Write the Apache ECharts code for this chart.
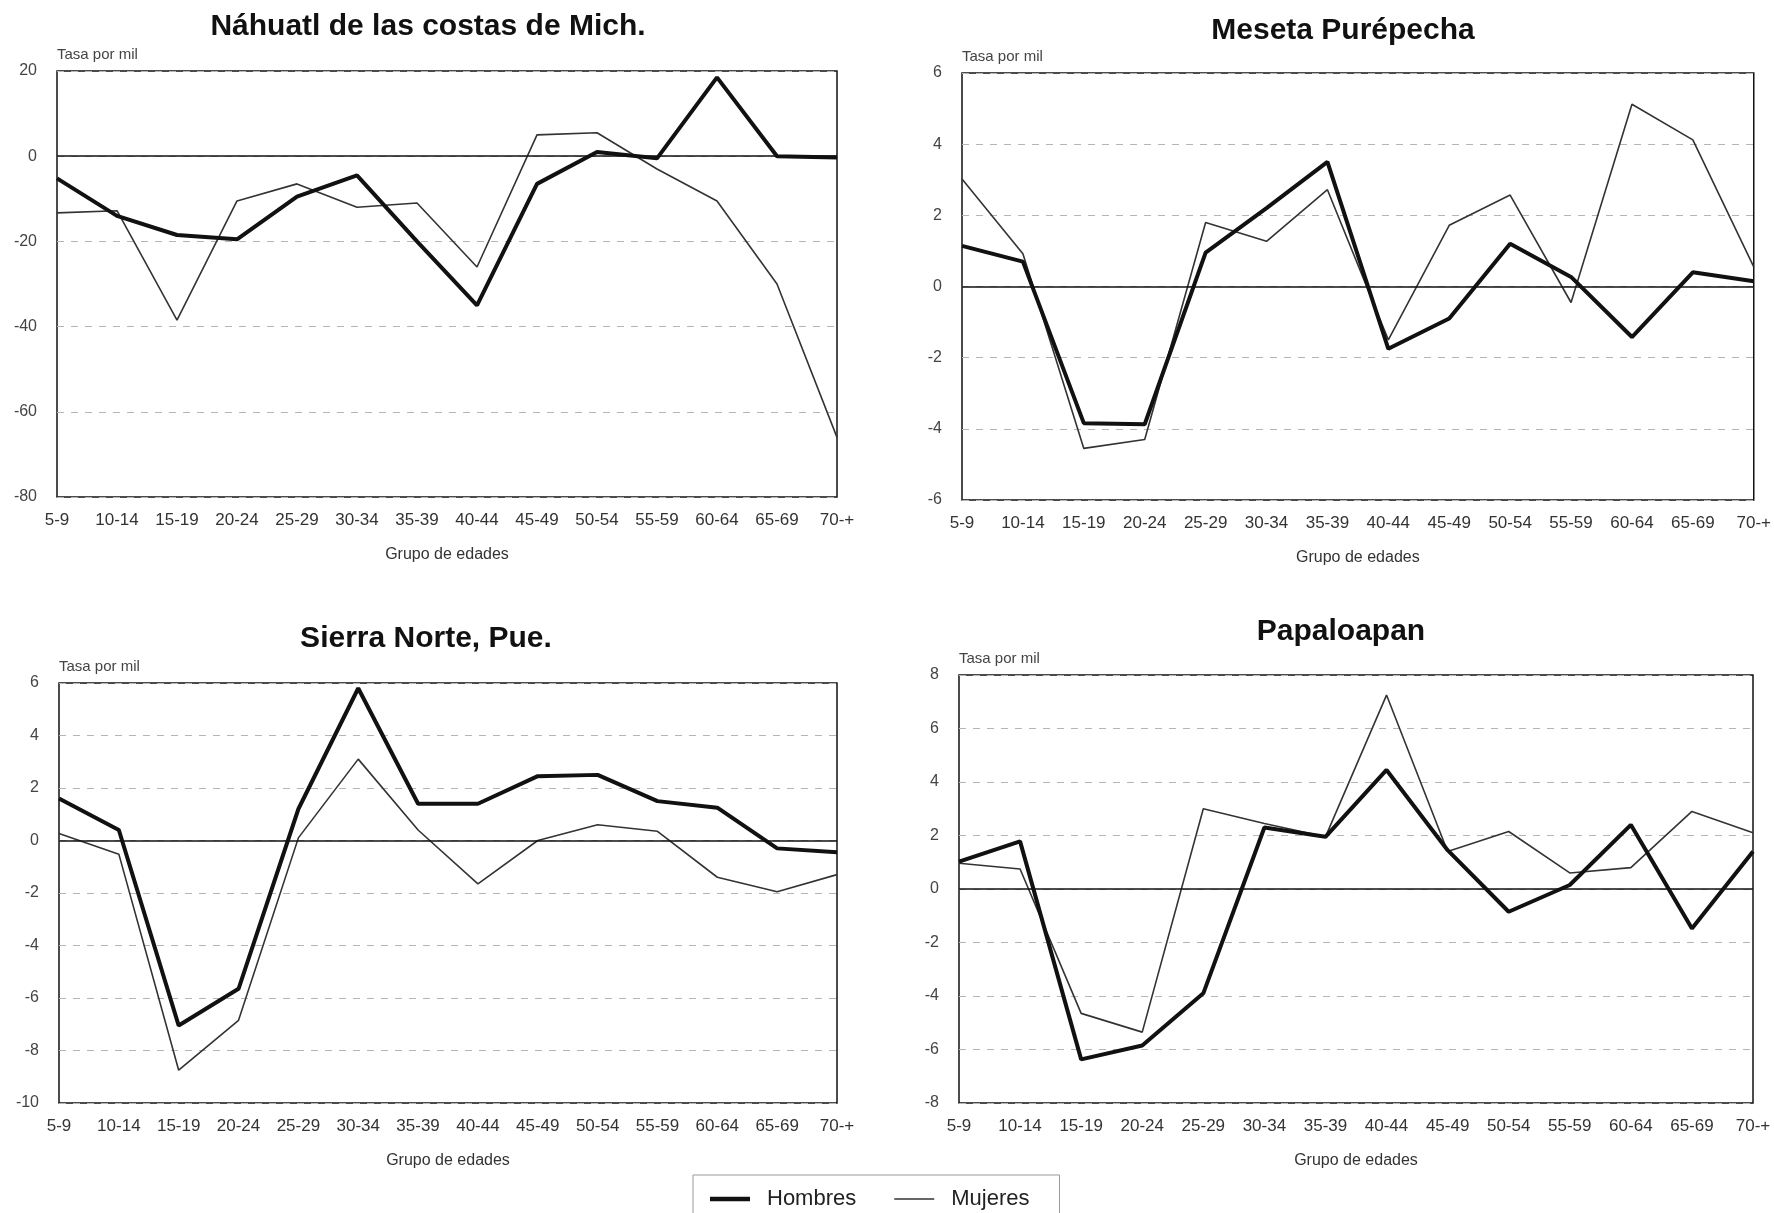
<!DOCTYPE html>
<html>
<head>
<meta charset="utf-8">
<script src="https://cdn.jsdelivr.net/npm/echarts@6/dist/echarts.min.js"></script>
<style>
  html, body { margin: 0; padding: 0; background: #fff; }
  #echart { width: 1774px; height: 1213px; }
</style>
</head>
<body>
<div id="echart"></div>
<script>
var dom = document.getElementById("echart");
var myChart = echarts.init(dom);

var ageGroups = ['5-9', '10-14', '15-19', '20-24', '25-29', '30-34', '35-39', '40-44', '45-49', '50-54', '55-59', '60-64', '65-69', '70-+'];

var panelTitles = ['Náhuatl de las costas de Mich.', 'Meseta Purépecha', 'Sierra Norte, Pue.', 'Papaloapan'];

// Náhuatl de las costas de Mich.
var hombresNahuatl = [-5.2, -14, -18.5, -19.5, -9.5, -4.5, -20, -35, -6.5, 1, -0.5, 18.5, 0, -0.3];
var mujeresNahuatl = [-13.3, -12.8, -38.5, -10.5, -6.5, -12, -11, -26, 5, 5.5, -3, -10.5, -30, -66];
// Meseta Purépecha
var hombresMeseta = [1.14, 0.7, -3.84, -3.87, 0.95, 2.2, 3.5, -1.75, -0.9, 1.2, 0.27, -1.42, 0.4, 0.15];
var mujeresMeseta = [3.02, 0.92, -4.55, -4.3, 1.8, 1.27, 2.72, -1.5, 1.72, 2.57, -0.45, 5.12, 4.12, 0.55];
// Sierra Norte, Pue.
var hombresSierra = [1.6, 0.4, -7.05, -5.65, 1.2, 5.8, 1.4, 1.4, 2.45, 2.5, 1.5, 1.25, -0.3, -0.45];
var mujeresSierra = [0.27, -0.52, -8.75, -6.85, 0.1, 3.1, 0.4, -1.65, 0, 0.6, 0.35, -1.4, -1.95, -1.3];
// Papaloapan
var hombresPapaloapan = [1.02, 1.78, -6.37, -5.85, -3.9, 2.3, 1.95, 4.45, 1.45, -0.85, 0.15, 2.4, -1.48, 1.4];
var mujeresPapaloapan = [0.96, 0.75, -4.65, -5.35, 3.0, 2.45, 1.95, 7.25, 1.4, 2.15, 0.6, 0.8, 2.9, 2.1];

var yMin = [-80, -6, -10, -8];
var yMax = [20, 6, 6, 8];
var yStep = [20, 2, 2, 2];

var hombresData = [hombresNahuatl, hombresMeseta, hombresSierra, hombresPapaloapan];
var mujeresData = [mujeresNahuatl, mujeresMeseta, mujeresSierra, mujeresPapaloapan];

var fontFamily = "'Liberation Sans', Arial, sans-serif";

var grids = [
    { left: 57, top: 71, width: 780, height: 426 },
    { left: 962, top: 73, width: 794, height: 427 },
    { left: 59, top: 683, width: 778, height: 420 },
    { left: 959, top: 675, width: 794, height: 428 }
];
var titlePos = [
    { left: 428, top: 12 },
    { left: 1343, top: 16 },
    { left: 426, top: 624 },
    { left: 1341, top: 617 }
];

var option = {
    backgroundColor: '#fff',
    animation: false,
    textStyle: { fontFamily: fontFamily },
    title: [],
    grid: [],
    xAxis: [],
    yAxis: [],
    legend: {
        data: [
            { name: 'Hombres', icon: 'path://M0 0h40v4.5h-40z', itemStyle: { color: '#111' } },
            { name: 'Mujeres', icon: 'path://M0 0h40v1.6h-40z', itemStyle: { color: '#333' } }
        ],
        left: 693,
        top: 1175,
        orient: 'horizontal',
        borderColor: '#999',
        borderWidth: 1,
        padding: [13, 30, 30, 17],
        itemWidth: 40,
        itemHeight: 14,
        itemGap: 38,
        symbolKeepAspect: true,
        textStyle: { fontSize: 22, color: '#222', fontFamily: fontFamily, padding: [0, 0, 0, 12] }
    },
    series: []
};

for (var i = 0; i < 4; i++) {
    option.title.push({
        text: panelTitles[i],
        left: titlePos[i].left,
        top: titlePos[i].top,
        textAlign: 'center',
        padding: 0,
        textStyle: { fontSize: 30, fontWeight: 'bold', color: '#111', fontFamily: fontFamily }
    });
    option.grid.push({
        left: grids[i].left,
        top: grids[i].top,
        width: grids[i].width,
        height: grids[i].height,
        show: true,
        borderColor: '#111',
        borderWidth: 1.5,
        backgroundColor: 'transparent'
    });
    option.xAxis.push({
        type: 'category',
        gridIndex: i,
        data: ageGroups,
        boundaryGap: false,
        axisLine: { show: false },
        axisTick: { show: false },
        axisLabel: { interval: 0, margin: 15, fontSize: 17, color: '#333' },
        splitLine: { show: false },
        name: 'Grupo de edades',
        nameLocation: 'middle',
        nameGap: 50,
        nameTextStyle: { fontSize: 16, color: '#333' }
    });
    option.yAxis.push({
        type: 'value',
        gridIndex: i,
        min: yMin[i],
        max: yMax[i],
        interval: yStep[i],
        axisLine: { show: false },
        axisTick: { show: false },
        axisLabel: { margin: 20, fontSize: 16, color: '#444' },
        splitLine: { show: true, lineStyle: { color: '#b5b5b5', type: [7, 7], width: 1 } },
        name: 'Tasa por mil',
        nameLocation: 'end',
        nameGap: 9,
        nameTextStyle: { fontSize: 15, color: '#444', align: 'left', verticalAlign: 'bottom' }
    });
    option.series.push({
        name: 'Hombres',
        type: 'line',
        xAxisIndex: i,
        yAxisIndex: i,
        data: hombresData[i],
        symbol: 'none',
        lineStyle: { color: '#111', width: 4 },
        itemStyle: { color: '#111' },
        z: 3,
        markLine: {
            silent: true,
            symbol: 'none',
            label: { show: false },
            lineStyle: { color: '#111', type: 'solid', width: 1.5 },
            data: [{ yAxis: 0 }]
        }
    });
    option.series.push({
        name: 'Mujeres',
        type: 'line',
        xAxisIndex: i,
        yAxisIndex: i,
        data: mujeresData[i],
        symbol: 'none',
        lineStyle: { color: '#333', width: 1.6 },
        itemStyle: { color: '#333' },
        z: 2
    });
}

if (option && typeof option === 'object') {
    myChart.setOption(option);
}

window.addEventListener('resize', function () {
    if (myChart != null && myChart != undefined) {
        myChart.resize();
    }
});
</script>
</body>
</html>
